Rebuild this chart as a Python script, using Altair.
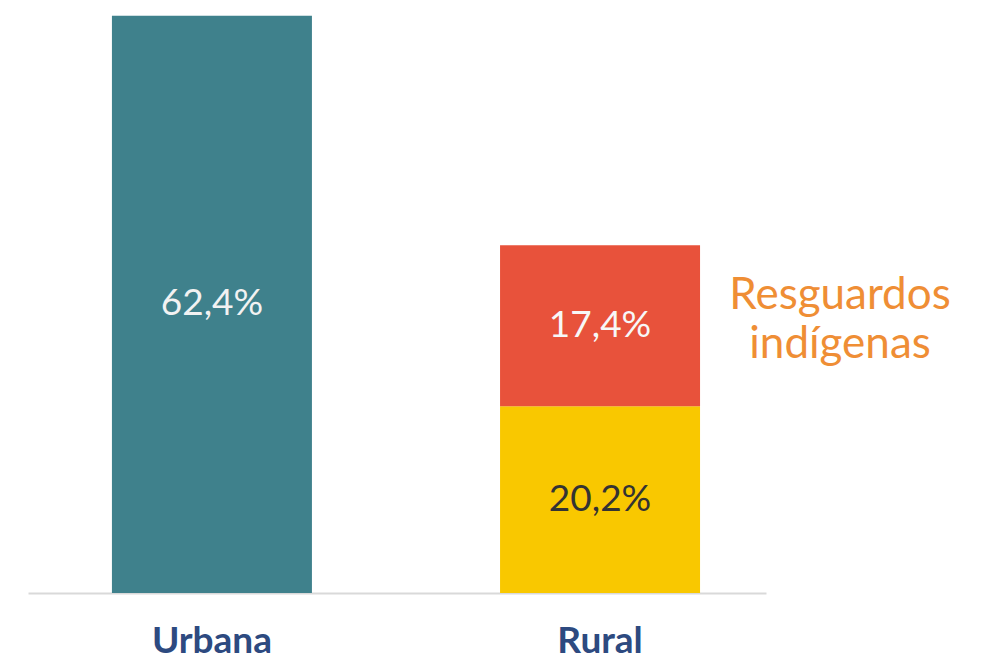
import altair as alt
import pandas as pd

categories = ["Urbana", "Rural", "Rural"]
segments = ["Urbana", "Rural no indígena", "Resguardos indígenas"]
values = [62.4, 20.2, 17.4]
labels = ["62,4%", "20,2%", "17,4%"]
label_colors = ["#f2f2f2", "#333333", "#f7f7f7"]
seg_colors = ["#3f818c", "#f9c800", "#e8523b"]
annot_lines = ["Resguardos", "indígenas"]

df = pd.DataFrame({"cat": categories, "seg": segments, "val": values,
                   "lab": labels, "lc": label_colors})
starts = []
acc = {}
for c, v in zip(categories, values):
    s = acc.get(c, 0.0)
    starts.append(s)
    acc[c] = s + v
df["y0"] = starts
df["y1"] = df["y0"] + df["val"]
df["mid"] = (df["y0"] + df["y1"]) / 2

x = alt.X("cat:N", sort=["Urbana", "Rural"],
          scale=alt.Scale(paddingInner=0.4845, paddingOuter=0.193, align=0.56),
          axis=alt.Axis(title=None, labelAngle=0, ticks=False, domainColor="#d9d9d9",
                        domainWidth=2, labelFont="Lato", labelFontSize=37,
                        labelFontWeight="bold", labelColor="#2d4a80", labelPadding=30))
y_scale = alt.Scale(domain=[0, 64.1], nice=False)

bars = alt.Chart(df).mark_bar(size=200).encode(
    x=x,
    y=alt.Y("y0:Q", scale=y_scale, axis=None),
    y2="y1:Q",
    color=alt.Color("seg:N", scale=alt.Scale(domain=segments, range=seg_colors), legend=None),
)

texts = alt.Chart(df).mark_text(font="Lato", fontSize=37, baseline="middle").encode(
    x=alt.X("cat:N", sort=["Urbana", "Rural"]),
    y=alt.Y("mid:Q", scale=y_scale),
    text="lab:N",
    color=alt.Color("lc:N", scale=None),
)

annot_df = pd.DataFrame({"cat": ["Rural"], "mid": [28.9],
                         "t": ["\n".join(annot_lines)]})
annot = alt.Chart(annot_df).mark_text(font="Lato", fontSize=44, color="#ef8e35",
                                      lineBreak="\n", lineHeight=49, dx=240, dy=-30,
                                      baseline="middle", align="center").encode(
    x=alt.X("cat:N", sort=["Urbana", "Rural"]),
    y=alt.Y("mid:Q", scale=y_scale),
    text="t:N",
)

chart = alt.layer(bars, texts, annot).properties(
    width=738, height=593,
    padding={"left": 28, "top": 0, "right": 219, "bottom": 73},
    autosize=alt.AutoSizeParams(type="none"),
).configure(background="white").configure_view(strokeWidth=0, stroke="transparent")

chart.save("out.html", embed_options={"renderer": "svg", "actions": False})
